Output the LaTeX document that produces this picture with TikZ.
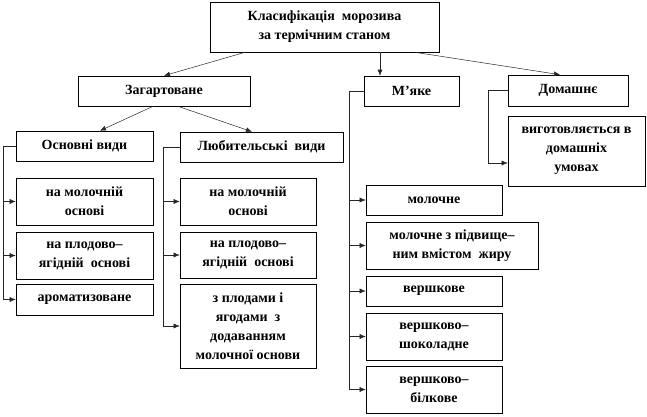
\documentclass[tikz,border=0pt]{standalone}
\usepackage{fontspec}
\setmainfont{Liberation Serif}
\usetikzlibrary{arrows.meta,shadows}
\begin{document}
\begin{tikzpicture}[x=1pt,y=-1pt,
  box/.style={draw=black, line width=0.6pt, fill=white, align=center, inner sep=1pt,
    font=\bfseries\fontsize{14}{19}\selectfont,
    drop shadow={shadow xshift=1.2pt, shadow yshift=-1.2pt, fill=black!55, opacity=1}},
  conn/.style={line width=0.5pt, black!85},
  arr/.style={conn, -{Latex[length=6pt,width=5pt]}}]
\useasboundingbox (0,0) rectangle (647,416);
\newcommand{\bx}[6]{\node[box, minimum width=#4, minimum height=#5] (#1) at (#2,#3) {#6};}
\bx{top}{324.5}{27}{229}{50}{Класифікація\ \ морозива\\за термічним станом}
\bx{zag}{164}{91}{172}{30}{Загартоване}
\bx{myake}{411.5}{91}{95}{30}{М’яке}
\bx{dom}{568}{90.5}{120}{31}{Домашнє}
\bx{vyg}{576.5}{151}{137}{70}{виготовляється в\\домашніх\\умовах}
\bx{osn}{84.5}{146}{137}{30}{Основні види}
\bx{lub}{261.5}{147}{163}{30}{Любительські\ \ види}
\bx{la}{84.5}{201.5}{137}{47}{на молочній\\основі}
\bx{lb}{84.5}{255.5}{137}{47}{на плодово–\\ягідній\ \ основі}
\bx{lc}{84.5}{299.5}{137}{31}{ароматизоване}
\bx{ma}{248}{201.5}{136}{47}{на молочній\\основі}
\bx{mb}{248}{255}{136}{46}{на плодово–\\ягідній\ \ основі}
\bx{mc}{248}{326}{136}{84}{з плодами і\\ягодами\ \ з\\додаванням\\молочної основи}
\bx{ra}{434}{200}{136}{30}{молочне}
\bx{rb}{452}{245.5}{172}{47}{молочне з підвище–\\ним вмістом\ \ жиру}
\bx{rc}{434}{291}{136}{30}{вершкове}
\bx{rd}{434}{336.5}{136}{47}{вершково–\\шоколадне}
\bx{re}{434}{389.5}{136}{47}{вершково–\\білкове}
% top arrows
\draw[arr] ([xshift=-79.5]top.south) -- (zag.north);
\draw[arr] ([xshift=55.5]top.south) -- ([xshift=-31.5]myake.north);
\draw[arr] ([xshift=90.5]top.south) -- ([xshift=-8]dom.north);
\draw[arr] ([xshift=-11]zag.south) -- ([xshift=15.5]osn.north);
\draw[arr] ([xshift=14]zag.south) -- ([xshift=-9.5]lub.north);
% left bracket
\draw[conn] (osn.west) -- (3,146) coordinate (bl) -- (bl |- lc.west);
\foreach \t in {la,lb,lc} \draw[arr] (bl |- \t.west) -- (\t.west);
% middle bracket
\draw[conn] (lub.west) -- (163,147) coordinate (bm) -- (bm |- mc.west);
\foreach \t in {ma,mb,mc} \draw[arr] (bm |- \t.west) -- (\t.west);
% right bracket
\draw[conn] (myake.west) -- (349,91) coordinate (br) -- (br |- re.west);
\foreach \t in {ra,rb,rc,rd,re} \draw[arr] (br |- \t.west) -- (\t.west);
% dom bracket
\coordinate (vt) at ([yshift=-12pt]vyg.west);
\draw[conn] (dom.west) -- (488,90.5) coordinate (bd) -- (bd |- vt);
\draw[arr] (bd |- vt) -- (vt);
\end{tikzpicture}
\end{document}
